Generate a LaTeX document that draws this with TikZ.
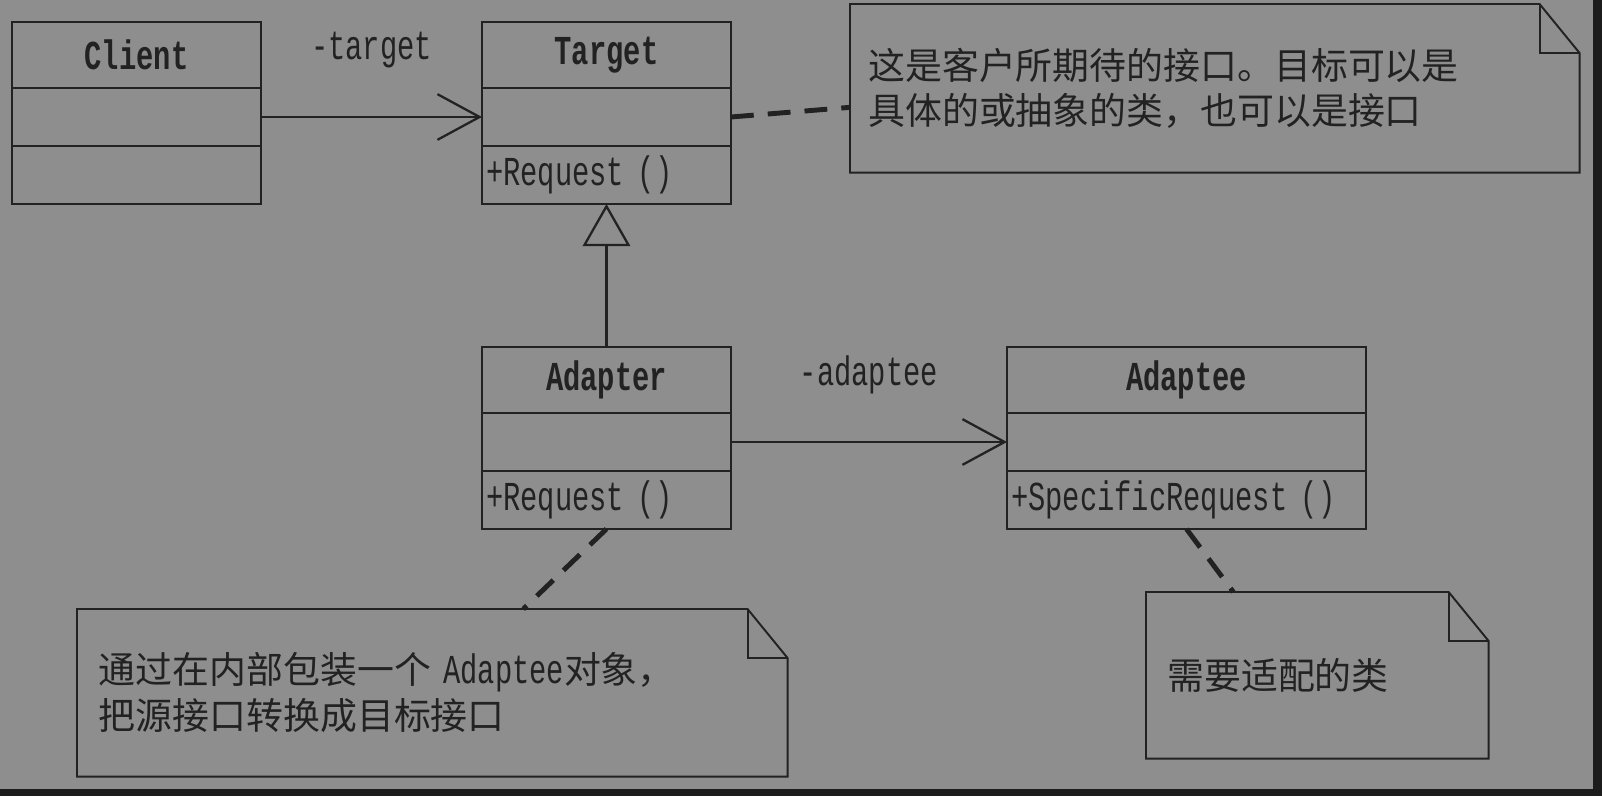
\documentclass[tikz,border=0pt]{standalone}
\usepackage{fontspec}
\setmonofont[FakeStretch=0.7]{Liberation Mono}
\newfontfamily\cjk{Noto Sans CJK SC}
\usetikzlibrary{positioning,arrows.meta}
\definecolor{bgray}{HTML}{8E8E8E}
\definecolor{edgedark}{HTML}{1C1C1C}
\definecolor{ink}{HTML}{222222}
\newcommand{\monotext}[1]{{\ttfamily\fontsize{23.4}{26}\selectfont #1}}

\begin{document}
\begin{tikzpicture}[x=0.02cm, y=-0.02cm,
	classpart/.style={draw=ink, text=ink, line width=1.3pt, outer sep=0pt, inner sep=0pt, minimum width=4.98cm, font=\ttfamily\fontsize{23.4}{26}\selectfont},
	classname/.style={classpart, minimum height=1.32cm, font=\ttfamily\bfseries\fontsize{23.4}{26}\selectfont},
	attrbox/.style={classpart, minimum height=1.16cm},
	opsbox/.style={classpart, minimum height=1.16cm, text width=#1, inner xsep=0.08cm, align=left},
	opsbox/.default=4.82cm,
	notebox/.style={text=ink, inner ysep=0pt, align=left, font=\cjk\fontsize{21}{26}\selectfont},
	assoc/.style={draw=ink, line width=1.3pt, -{Straight Barb[length=24pt, width=26pt]}},
	inherit/.style={draw=ink, line width=1.3pt, -{Triangle[open, length=24pt, width=27pt]}},
	rolename/.style={midway, yshift=38pt, text=ink, font=\ttfamily\fontsize{23.4}{26}\selectfont},
	notelink/.style={draw=ink, line width=2.8pt, dash pattern=on 13pt off 8pt},
	noteline/.style={draw=ink, line width=1.1pt}]
	
	\fill[edgedark] (0,0) rectangle (1602,796);
	\fill[bgray] (0,0) rectangle (1593,789);
	
	\node[classname, anchor=north west] (client) at (12,22) {Client};
	\node[attrbox, below=0pt of client] (clientattr) {};
	\node[opsbox, below=0pt of clientattr] (clientops) {};
	
	\node[classname, anchor=north west] (target) at (482,22) {Target};
	\node[attrbox, below=0pt of target] (targetattr) {};
	\node[opsbox, below=0pt of targetattr] (targetops) {+Request ()};
	
	\node[classname, anchor=north west] (adapter) at (482,347) {Adapter};
	\node[attrbox, below=0pt of adapter] (adapterattr) {};
	\node[opsbox, below=0pt of adapterattr] (adapterops) {+Request ()};
	
	\node[classname, minimum width=7.18cm, anchor=north west] (adaptee) at (1007,347) {Adaptee};
	\node[attrbox, minimum width=7.18cm, below=0pt of adaptee] (adapteeattr) {};
	\node[opsbox=7.02cm, below=0pt of adapteeattr] (adapteeops) {+SpecificRequest ()};
	
	\draw[assoc] (clientattr.east) -- node[rolename] {-target} (targetattr.west);
	
	\draw[assoc] (adapterattr.east) -- node[rolename] {-adaptee} (adapteeattr.west);
	
	\draw[inherit] (adapter.north) -- (targetops.south);
	
	\node[notebox, anchor=north west, text width=13.86cm, inner xsep=0.36cm, minimum height=3.36cm] (goalnote) at (850,4)
		{这是客户所期待的接口。目标可以是\\具体的或抽象的类，也可以是接口};
	
	\node[notebox, anchor=north west, text width=13.34cm, inner xsep=0.43cm, minimum height=3.34cm] (wrapnote) at (77,609)
		{通过在内部包装一个 \monotext{Adaptee}对象，\\把源接口转换成目标接口};
	
	\node[notebox, anchor=north west, text width=6cm, inner xsep=0.42cm, minimum height=3.32cm] (adapteenote) at (1146,592)
		{需要适配的类};
	
	\foreach \n in {goalnote,wrapnote,adapteenote}{
		\draw[noteline] (\n.north west) -- ([xshift=-0.8cm]\n.north east) -- ([yshift=-0.98cm]\n.north east) -- (\n.south east) -- (\n.south west) -- cycle;
		\draw[noteline] ([xshift=-0.8cm]\n.north east) |- ([yshift=-0.98cm]\n.north east);
	}
	
	\draw[notelink] (targetattr.east) -- ([yshift=-0.38cm]goalnote.west);
	
	\draw[notelink] (adapterops.south) -- ([xshift=1.82cm]wrapnote.north);
	
	\draw[notelink] (adapteeops.south) -- ([xshift=-1.68cm]adapteenote.north);
	
\end{tikzpicture}
\end{document}
